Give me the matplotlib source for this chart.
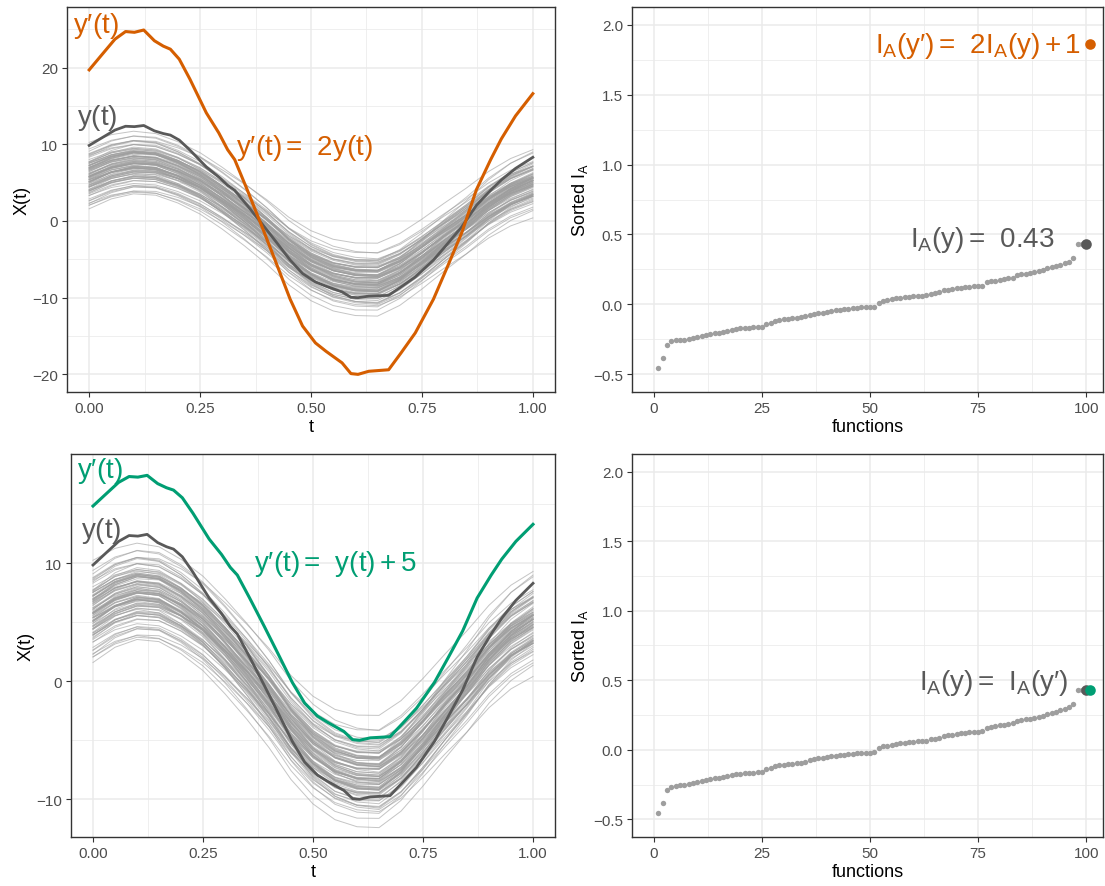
import numpy as np
import matplotlib.pyplot as plt
from matplotlib.ticker import FuncFormatter

plt.rcParams['font.family'] = ['Liberation Sans', 'DejaVu Sans']
plt.rcParams['mathtext.fontset'] = 'custom'
plt.rcParams['mathtext.rm'] = 'Liberation Sans'
plt.rcParams['mathtext.it'] = 'Liberation Sans:italic'
plt.rcParams['mathtext.bf'] = 'Liberation Sans:bold'

W, H = 1105, 887

ORANGE = '#D55E00'
GREEN = '#009E73'
DARK = '#595959'
GREY = '#9E9E9E'

# mean shape of the sample of curves
T_GRID = [0, 0.05, 0.1, 0.15, 0.2, 0.25, 0.3, 0.35, 0.4, 0.45, 0.5,
          0.55, 0.6, 0.65, 0.7, 0.75, 0.8, 0.85, 0.9, 0.95, 1.0]
MEAN_CURVE = [5.8, 7.0, 7.6, 7.4, 6.4, 5.0, 3.1, 1.0, -1.3, -3.9, -5.9,
              -7.2, -7.8, -7.9, -6.6, -4.6, -2.4, -0.3, 2.0, 3.8, 5.0]

# per-curve vertical shift, amplitude and tilt of the 99 sample curves
OFFSETS = [-4.2, -3.6, -3.2, -2.9, -2.6, -2.5, -2.3, -2.2, -2.1, -2.0,
           -1.9, -1.8, -1.7, -1.6, -1.55, -1.5, -1.4, -1.3, -1.25, -1.2,
           -1.1, -1.0, -0.95, -0.9, -0.85, -0.8, -0.7, -0.65, -0.6, -0.5,
           -0.45, -0.4, -0.35, -0.3, -0.25, -0.2, -0.15, -0.1, -0.05, 0.0,
           0.0, 0.05, 0.1, 0.15, 0.2, 0.25, 0.3, 0.35, 0.4, 0.45,
           0.5, 0.55, 0.6, 0.7, 0.75, 0.8, 0.85, 0.9, 1.0, 1.05,
           1.1, 1.2, 1.25, 1.3, 1.4, 1.5, 1.55, 1.6, 1.7, 1.8,
           1.9, 2.0, 2.1, 2.2, 2.3, 2.5, 2.6, 2.9, 3.2, 3.6,
           4.1, -0.55, 0.65, -1.15, 1.15, -0.75, 0.95, -1.45, 1.35, -0.2,
           0.3, -2.4, 2.4, -0.05, 0.1, -0.9, 0.8, -1.65, 1.65]
AMPS = [1.05, 0.92, 1.10, 0.97, 0.88, 1.02, 1.13, 0.95, 1.00, 0.90,
        1.08, 0.99, 0.86, 1.04, 1.12, 0.93, 1.01, 0.96, 1.07, 0.89,
        1.15, 0.98, 0.91, 1.03, 1.09, 0.94, 0.87, 1.06, 1.00, 0.97,
        1.11, 0.92, 1.02, 0.85, 1.05, 0.99, 1.14, 0.95, 1.03, 0.90,
        1.07, 0.96, 1.01, 0.88, 1.10, 0.98, 0.93, 1.06, 1.04, 0.91,
        1.12, 0.97, 0.86, 1.02, 1.08, 0.94, 1.00, 0.89, 1.13, 0.99,
        0.95, 1.05, 0.92, 1.09, 0.97, 1.01, 0.87, 1.06, 0.93, 1.11,
        1.03, 0.90, 0.98, 1.14, 0.96, 1.04, 0.88, 1.00, 1.07, 0.94,
        0.91, 1.10, 0.99, 1.02, 0.86, 1.08, 0.95, 1.05, 0.97, 1.12,
        0.93, 1.01, 0.89, 1.06, 0.98, 1.03, 0.92, 1.09, 1.00]
TILTS = [0.6, -1.2, 1.8, -0.3, 0.9, -2.1, 0.2, 1.4, -0.8, 2.3,
         -1.6, 0.4, -0.1, 1.1, -2.4, 0.7, -0.5, 1.9, -1.0, 0.0,
         1.3, -1.8, 0.5, -0.7, 2.0, -1.4, 0.8, -0.2, 1.6, -2.2,
         0.3, -0.9, 1.0, -1.5, 2.2, -0.4, 0.1, 1.5, -1.1, 0.6,
         -2.0, 0.9, -0.6, 1.7, -1.3, 0.2, 2.4, -0.3, -1.7, 1.2,
         0.4, -0.8, 1.9, -2.3, 0.0, 1.0, -1.2, 0.5, -0.1, 2.1,
         -1.9, 0.8, -0.5, 1.4, -1.0, 0.3, 1.8, -2.1, 0.7, -0.4,
         1.1, -1.6, 0.2, 2.2, -0.9, -0.2, 1.5, -1.4, 0.6, -2.4,
         1.3, 0.1, -0.7, 1.7, -1.8, 0.9, -0.3, 2.0, -1.1, 0.4,
         -0.6, 1.6, -2.0, 0.0, 1.2, -1.5, 0.5, -0.8, 1.0]

# the highlighted function y(t)
Y_T = [0, 0.026, 0.058, 0.082, 0.102, 0.123, 0.147, 0.167, 0.183, 0.203,
       0.227, 0.264, 0.292, 0.312, 0.328, 0.356, 0.389, 0.421, 0.453, 0.481,
       0.51, 0.534, 0.57, 0.59, 0.606, 0.63, 0.675, 0.703, 0.735, 0.776,
       0.808, 0.84, 0.873, 0.905, 0.929, 0.961, 1.0]
Y_VALS = [9.85, 10.75, 11.85, 12.35, 12.3, 12.45, 11.75, 11.4, 11.2, 10.55,
          9.25, 7.05, 5.75, 4.65, 4.0, 2.05, -0.33, -2.7, -5.1, -6.85,
          -7.95, -8.5, -9.25, -9.95, -10.0, -9.8, -9.7, -8.6, -7.3, -5.1,
          -2.95, -0.75, 2.05, 4.0, 5.35, 6.85, 8.3]

# sorted index values of the 100 functions
SORTED_IA = [-0.452, -0.386, -0.29, -0.265, -0.258, -0.254, -0.252, -0.248, -0.242, -0.232,
             -0.224, -0.217, -0.21, -0.205, -0.202, -0.198, -0.188, -0.18, -0.175, -0.171,
             -0.169, -0.167, -0.164, -0.162, -0.16, -0.138, -0.132, -0.12, -0.11, -0.106,
             -0.103, -0.1, -0.097, -0.094, -0.086, -0.076, -0.066, -0.062, -0.059, -0.055,
             -0.048, -0.042, -0.037, -0.034, -0.031, -0.028, -0.025, -0.022, -0.021, -0.02,
             -0.019, 0.012, 0.025, 0.03, 0.035, 0.045, 0.048, 0.052, 0.056, 0.058,
             0.06, 0.062, 0.065, 0.075, 0.08, 0.085, 0.1, 0.105, 0.11, 0.115,
             0.12, 0.122, 0.125, 0.128, 0.13, 0.133, 0.16, 0.165, 0.17, 0.175,
             0.18, 0.185, 0.19, 0.21, 0.215, 0.22, 0.225, 0.23, 0.235, 0.245,
             0.26, 0.268, 0.275, 0.285, 0.295, 0.305, 0.33, 0.43, 0.43, 0.43]
IA_Y = 0.43


def fmt(decimals):
    return FuncFormatter(lambda v, pos: f'{v:.{decimals}f}'.replace('-', '\u2212'))


def make_axes(fig, left, right, top, bottom):
    return fig.add_axes([left / W, 1 - bottom / H, (right - left) / W, (bottom - top) / H])


def style_axes(ax):
    ax.grid(True, which='major', color='#EBEBEB', lw=1.1)
    ax.grid(True, which='minor', color='#EBEBEB', lw=0.55)
    ax.tick_params(which='minor', length=0)
    ax.tick_params(which='major', length=3.5, width=0.8, color='#333333',
                   labelcolor='#4D4D4D', labelsize=11, pad=3)
    ax.set_axisbelow(True)
    for s in ax.spines.values():
        s.set_color('#333333')
        s.set_linewidth(1.0)


def draw_curves(ax, y_prime, color):
    t = np.array(T_GRID)
    m = np.array(MEAN_CURVE)
    for c, a, b in zip(OFFSETS, AMPS, TILTS):
        ax.plot(t, a * m + c + b * (t - 0.5), color=GREY, alpha=0.6, lw=0.7, zorder=2)
    ax.plot(Y_T, Y_VALS, color=DARK, lw=2.0, zorder=3, solid_joinstyle='round')
    ax.plot(Y_T, y_prime, color=color, lw=2.2, zorder=4, solid_joinstyle='round')
    style_axes(ax)
    ax.set_xticks([0, 0.25, 0.5, 0.75, 1.0])
    ax.set_xticks([0.125, 0.375, 0.625, 0.875], minor=True)
    ax.set_xlim(-0.05, 1.05)
    ax.xaxis.set_major_formatter(fmt(2))
    ax.yaxis.set_major_formatter(fmt(0))
    ax.set_xlabel('t', fontsize=13, labelpad=2)
    ax.set_ylabel('X(t)', fontsize=13, labelpad=1)


def draw_index(ax, new_value, color):
    idx = np.arange(1, len(SORTED_IA) + 1)
    ax.scatter(idx, SORTED_IA, s=15, color=GREY, lw=0, zorder=3)
    ax.scatter([len(SORTED_IA)], [IA_Y], s=58, color=DARK, lw=0, zorder=4)
    ax.scatter([len(SORTED_IA) + 1], [new_value], s=58, color=color, lw=0, zorder=5)
    style_axes(ax)
    ax.set_xticks([0, 25, 50, 75, 100])
    ax.set_xticks([12.5, 37.5, 62.5, 87.5], minor=True)
    ax.set_yticks([-0.5, 0, 0.5, 1.0, 1.5, 2.0])
    ax.set_yticks([-0.25, 0.25, 0.75, 1.25, 1.75], minor=True)
    ax.set_xlim(-5.1, 103.9)
    ax.set_ylim(-0.627, 2.127)
    ax.yaxis.set_major_formatter(fmt(1))
    ax.set_xlabel('functions', fontsize=13, labelpad=2)
    ax.set_ylabel(r'Sorted $\mathrm{I_A}$', fontsize=13, labelpad=2)


fig = plt.figure(figsize=(W / 100, H / 100), dpi=100)

y = np.array(Y_VALS)
lab = dict(fontsize=20, va='center')

# top row: y'(t) = 2 y(t)
ax1 = make_axes(fig, 67, 555, 8, 393)
draw_curves(ax1, 2 * y, ORANGE)
ax1.set_yticks([-20, -10, 0, 10, 20])
ax1.set_yticks([-15, -5, 5, 15, 25], minor=True)
ax1.set_ylim(-22.3, 27.9)
ax1.text(-0.036, 25.6, r"$\mathrm{y′(t)}$", color=ORANGE, ha='left', **lab)
ax1.text(-0.028, 13.6, r"$\mathrm{y(t)}$", color=DARK, ha='left', **lab)
ax1.text(0.332, 9.7, r"$\mathrm{y′(t) =\;\,2y(t)}$", color=ORANGE, ha='left', **lab)

ax2 = make_axes(fig, 632, 1103, 8, 393)
draw_index(ax2, 2 * IA_Y + 1, ORANGE)
ax2.text(98.8, 1.857, r"$\mathrm{I_A(y′) =\;\,2I_A(y) + 1}$", color=ORANGE, ha='right', **lab)
ax2.text(92.8, 0.47, r"$\mathrm{I_A(y) =\;\,%.2f}$" % IA_Y, color=DARK, ha='right', **lab)

# bottom row: y'(t) = y(t) + 5
ax3 = make_axes(fig, 71, 555, 455, 838)
draw_curves(ax3, y + 5, GREEN)
ax3.set_yticks([-10, 0, 10])
ax3.set_yticks([-5, 5, 15], minor=True)
ax3.set_ylim(-13.2, 19.26)
ax3.text(-0.036, 17.9, r"$\mathrm{y′(t)}$", color=GREEN, ha='left', **lab)
ax3.text(-0.028, 12.8, r"$\mathrm{y(t)}$", color=DARK, ha='left', **lab)
ax3.text(0.365, 10.0, r"$\mathrm{y′(t) =\;\,y(t) + 5}$", color=GREEN, ha='left', **lab)

ax4 = make_axes(fig, 632, 1103, 455, 838)
draw_index(ax4, IA_Y, GREEN)
ax4.text(95.9, 0.487, r"$\mathrm{I_A(y) =\;\,I_A(y′)}$", color=DARK, ha='right', **lab)

fig.savefig('out.png', dpi=100)
